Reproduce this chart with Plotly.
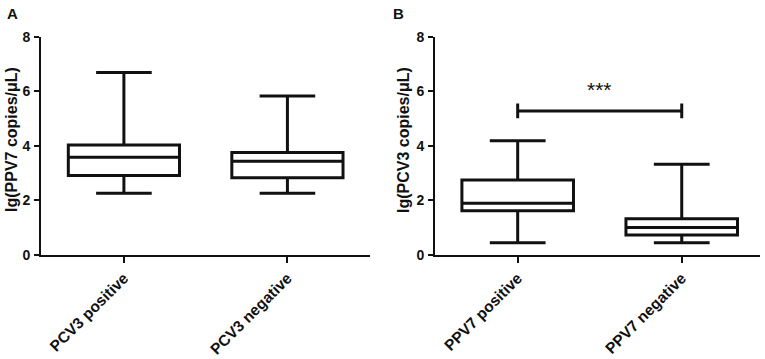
import plotly.graph_objects as go

# ---- data ----
cats_a = ["PCV3 positive", "PCV3 negative"]
q1_a = [2.91, 2.83]
med_a = [3.58, 3.44]
q3_a = [4.03, 3.76]
low_a = [2.26, 2.26]
high_a = [6.69, 5.83]

cats_b = ["PPV7 positive", "PPV7 negative"]
q1_b = [1.62, 0.73]
med_b = [1.90, 1.01]
q3_b = [2.75, 1.33]
low_b = [0.45, 0.45]
high_b = [4.19, 3.33]

ytitle_a = "lg(PPV7 copies/μL)"
ytitle_b = "lg(PCV3 copies/μL)"
sig_label = "***"
sig_y = 5.28
yticks = [0, 2, 4, 6, 8]

W, H = 765, 359
FONT = "Liberation Sans, Arial, sans-serif"
INK = "#111111"


def px(v):
    return v / W


def py(v):
    return (H - v) / H


fig = go.Figure()
box_style = dict(
    line=dict(color=INK, width=3), fillcolor="white",
    width=0.68, whiskerwidth=0.5, boxpoints=False, showlegend=False,
    hoverinfo="skip",
)
fig.add_trace(go.Box(x=cats_a, q1=q1_a, median=med_a, q3=q3_a,
                     lowerfence=low_a, upperfence=high_a,
                     xaxis="x", yaxis="y", **box_style))
fig.add_trace(go.Box(x=cats_b, q1=q1_b, median=med_b, q3=q3_b,
                     lowerfence=low_b, upperfence=high_b,
                     xaxis="x2", yaxis="y2", **box_style))

ydom = [py(255), py(36.7)]

xax = dict(type="category", showline=True, linecolor=INK, linewidth=2,
           ticks="outside", ticklen=6, tickwidth=2, tickcolor=INK,
           tickangle=-45, showgrid=False, zeroline=False, fixedrange=True,
           automargin=False,
           tickfont=dict(family=FONT, size=15.5, color=INK))
yax = dict(range=[0, 8], tickvals=yticks,
           ticktext=[f"<b>{v}</b>" for v in yticks],
           showline=True, linecolor=INK,
           linewidth=2, ticks="outside", ticklen=5, tickwidth=2,
           tickcolor=INK, showgrid=False, zeroline=False, domain=ydom,
           automargin=False, fixedrange=True, ticklabelstandoff=1,
           tickfont=dict(family=FONT, size=14, color=INK))

fig.update_layout(
    width=W, height=H, margin=dict(l=0, r=0, t=0, b=0, autoexpand=False),
    paper_bgcolor="white", plot_bgcolor="white",
    xaxis=dict(**xax, domain=[px(41), px(370)], range=[-0.507, 1.505],
               tickvals=cats_a, ticktext=[f"<b>{c}</b>" for c in cats_a],
               anchor="y"),
    yaxis=dict(**yax, anchor="x"),
    xaxis2=dict(**xax, domain=[px(435), px(760)], range=[-0.504, 1.477],
                tickvals=cats_b, ticktext=[f"<b>{c}</b>" for c in cats_b],
                anchor="y2"),
    yaxis2=dict(**yax, anchor="x2"),
)

# significance bracket
fig.add_shape(type="line", xref="x2", yref="y2", x0=0, x1=1, y0=sig_y, y1=sig_y,
              line=dict(color=INK, width=3))
for xe in (0, 1):
    fig.add_shape(type="line", xref="x2", yref="y2", x0=xe, x1=xe,
                  y0=sig_y - 0.27, y1=sig_y + 0.27, line=dict(color=INK, width=3))
fig.add_annotation(xref="x2", yref="y2", x=0.5, y=6.05, text=sig_label,
                   showarrow=False, font=dict(family=FONT, size=21, color=INK))

# axis titles
for xp, txt in ((11, ytitle_a), (403, ytitle_b)):
    fig.add_annotation(xref="paper", yref="paper", x=px(xp), y=py(140),
                       text=f"<b>{txt}</b>", textangle=-90, showarrow=False,
                       xanchor="center", yanchor="middle",
                       font=dict(family=FONT, size=16, color=INK))

# panel letters
for xp, lab in ((12.5, "A"), (398, "B")):
    fig.add_annotation(xref="paper", yref="paper", x=px(xp), y=py(13),
                       text=f"<b>{lab}</b>", showarrow=False, xanchor="center",
                       yanchor="middle",
                       font=dict(family=FONT, size=15, color=INK))

fig.write_html(
    "out.html",
    config={"displayModeBar": False},
    post_script="document.body.style.margin='0';document.body.style.overflow='hidden';",
)
